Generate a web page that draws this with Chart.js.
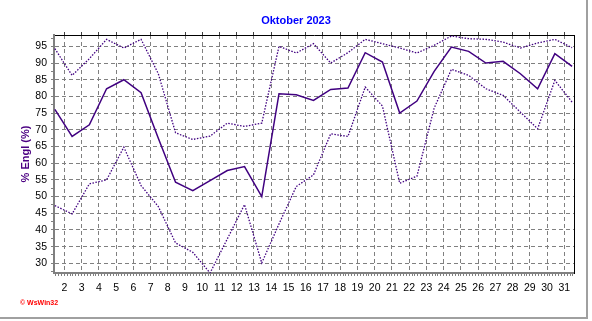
<!DOCTYPE html>
<html>
<head>
<meta charset="utf-8">
<script src="https://cdn.jsdelivr.net/npm/chart.js@4/dist/chart.umd.min.js"></script>
<style>
body { margin: 0; background: #fff; }
#wrap { position: relative; width: 592px; height: 321px; }
#wrap canvas { position: absolute; left: 0; top: 0; }
#frame { position: absolute; left: 0; top: 0; width: 586px; height: 317px; border-right: 2px solid #a0a0a0; border-bottom: 2px solid #a0a0a0; pointer-events: none; }
#credit { position: absolute; left: 20px; top: 299px; font: bold 7px Arial, "Liberation Sans", sans-serif; color: #f00; }
</style>
</head>
<body>
<div id="wrap">
  <canvas id="chart" width="592" height="321"></canvas>
  <div id="frame"></div>
  <div id="credit">© WsWin32</div>
</div>
<script>
// Oktober 2023, daily values (day of month)
const days = [1, 2, 3, 4, 5, 6, 7, 8, 9, 10, 11, 12, 13, 14, 15, 16, 17, 18, 19, 20, 21, 22, 23, 24, 25, 26, 27, 28, 29, 30, 31];
const maxValues = [94.3, 86.3, 91.3, 97.1, 94.5, 97.1, 86.8, 69.1, 67.1, 68.1, 72.0, 71.0, 72.0, 95.0, 93.0, 95.8, 90.0, 93.1, 97.1, 95.8, 94.5, 93.0, 95.3, 98.1, 97.3, 97.1, 96.3, 94.5, 96.0, 97.1, 94.6];
const meanValues = [76.1, 68.0, 71.5, 82.3, 85.0, 81.1, 67.5, 54.3, 51.8, 54.8, 57.8, 59.0, 50.0, 80.8, 80.5, 78.8, 82.1, 82.5, 93.1, 90.3, 75.0, 78.6, 87.5, 94.8, 93.5, 90.0, 90.5, 86.8, 82.3, 92.8, 89.0];
const minValues = [47.3, 44.8, 53.8, 55.0, 64.8, 53.3, 47.0, 36.1, 33.3, 27.1, 37.3, 47.6, 30.1, 41.8, 53.0, 56.5, 68.8, 68.0, 82.8, 77.1, 54.0, 56.1, 76.5, 88.1, 86.3, 82.3, 80.3, 75.3, 70.3, 84.8, 78.3];

// time of day of each reading, as a fraction of a day
const sampleTime = 0.45;

const xMin = 1.4;
const xMax = 31.56;
const yMin = 27.1;
const yMax = 98.4;

const FONT = 'Arial, "Liberation Sans", sans-serif';
const GRID = '#808080';
const LINE = '#400080';

const ctx = document.getElementById('chart').getContext('2d');

function isWhole(v) {
    return Math.abs(v - Math.round(v)) < 1e-6;
}

function isFive(v) {
    return isWhole(v / 5);
}

function toPoints(values) {
    return days.map((d, i) => ({ x: d + sampleTime, y: values[i] }));
}

new Chart(ctx, {
    type: 'line',
    data: {
        datasets: [
            {
                label: 'Max',
                data: toPoints(maxValues),
                borderColor: LINE,
                borderWidth: 1.3,
                borderDash: [1.5, 1.5],
                pointRadius: 0,
                xAxisID: 'x',
                yAxisID: 'y'
            },
            {
                label: 'Mittel',
                data: toPoints(meanValues),
                borderColor: LINE,
                borderWidth: 1.5,
                pointRadius: 0,
                xAxisID: 'x',
                yAxisID: 'y'
            },
            {
                label: 'Min',
                data: toPoints(minValues),
                borderColor: LINE,
                borderWidth: 1.3,
                borderDash: [1.5, 1.5],
                pointRadius: 0,
                xAxisID: 'x',
                yAxisID: 'y'
            }
        ]
    },
    options: {
        responsive: false,
        animation: false,
        layout: { padding: 0 },
        plugins: {
            legend: { display: false },
            tooltip: { enabled: false },
            title: {
                display: true,
                text: 'Oktober 2023',
                color: '#0000ff',
                font: { family: FONT, size: 11, weight: 'bold' },
                padding: { top: 14.4, bottom: 3.4 }
            }
        },
        scales: {
            x: {
                type: 'linear',
                position: 'bottom',
                min: xMin,
                max: xMax,
                afterFit: function(scale) { scale.height = 48; },
                ticks: {
                    stepSize: 1 / 6,
                    autoSkip: false,
                    includeBounds: false,
                    maxRotation: 0,
                    padding: 6,
                    color: '#000',
                    font: { family: FONT, size: 10.5 },
                    callback: function(value) {
                        return isWhole(value) ? String(Math.round(value)) : '';
                    }
                },
                grid: {
                    color: function(c) {
                        return c.tick && isWhole(c.tick.value) ? GRID : 'rgba(0,0,0,0)';
                    },
                    tickColor: GRID,
                    tickLength: 3,
                    lineWidth: 1
                },
                border: { color: GRID, width: 2, dash: [4, 3] }
            },
            xTop: {
                type: 'linear',
                position: 'top',
                min: xMin,
                max: xMax,
                afterFit: function(scale) { scale.height = 4; },
                ticks: { display: false, stepSize: 1, autoSkip: false, includeBounds: false },
                grid: { drawOnChartArea: false, tickLength: 3, color: '#404040' },
                border: { color: '#000', width: 1 }
            },
            y: {
                type: 'linear',
                position: 'left',
                min: yMin,
                max: yMax,
                afterFit: function(scale) { scale.width = 54; },
                ticks: {
                    stepSize: 2.5,
                    autoSkip: false,
                    includeBounds: false,
                    padding: 4,
                    color: '#000',
                    font: { family: FONT, size: 10.5 },
                    callback: function(value) {
                        return isFive(value) ? String(Math.round(value)) : '';
                    }
                },
                grid: {
                    color: function(c) {
                        return c.tick && isFive(c.tick.value) ? GRID : 'rgba(0,0,0,0)';
                    },
                    tickColor: GRID,
                    tickLength: 3,
                    lineWidth: 1
                },
                border: { color: GRID, width: 2, dash: [4, 3] },
                title: {
                    display: true,
                    text: '% Engl (%)',
                    color: '#4b0082',
                    font: { family: FONT, size: 11, weight: 'bold' },
                    padding: { top: 19, bottom: 0 }
                }
            },
            yRight: {
                type: 'linear',
                position: 'right',
                afterFit: function(scale) { scale.width = 18; },
                ticks: { display: false },
                grid: { display: false, drawTicks: false },
                border: { color: '#000', width: 1 }
            }
        }
    }
});
</script>
</body>
</html>
